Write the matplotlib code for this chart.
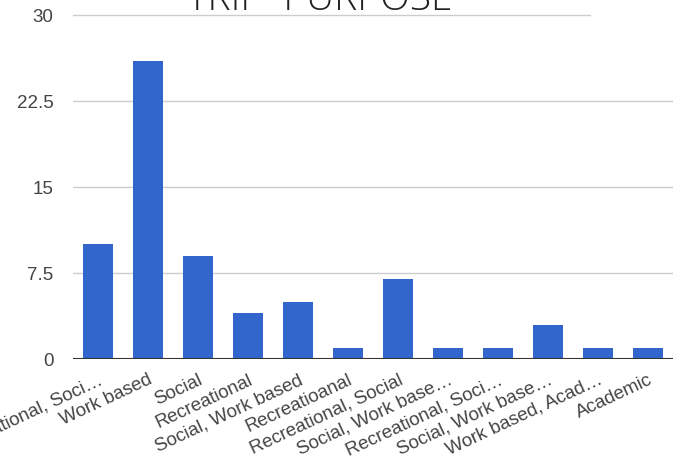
import matplotlib
matplotlib.use("Agg")
import matplotlib.pyplot as plt

categories = [
    "Recreational, Soci\u2026", "Work based", "Social", "Recreational",
    "Social, Work based", "Recreatioanal", "Recreational, Social",
    "Social, Work base\u2026", "Recreational, Soci\u2026", "Social, Work base\u2026",
    "Work based, Acad\u2026", "Academic",
]
counts = [10, 26, 9, 4, 5, 1, 7, 1, 1, 3, 1, 1]
yticks = [0, 7.5, 15, 22.5, 30]
ytick_labels = ["0", "7.5", "15", "22.5", "30"]

fig = plt.figure(figsize=(6.83, 4.65), dpi=100)
ax = fig.add_axes([73 / 683, 1 - 359 / 465, 600 / 683, 344 / 465])

x = list(range(len(categories)))
ax.bar(x, counts, width=0.6, color="#3366cc", zorder=3)

ax.set_xlim(-0.5, len(categories) - 0.5)
ax.set_ylim(0, 30)

# horizontal gridlines (top one shortened where the title block sits)
for v in yticks[1:-1]:
    ax.axhline(v, color="#cccccc", lw=1, zorder=1)
ax.axhline(30, xmin=0, xmax=(590 - 73) / 600, color="#cccccc", lw=1, zorder=1, clip_on=False)
ax.axhline(0, color="#333333", lw=1.5, zorder=4)

for s in ax.spines.values():
    s.set_visible(False)

ax.set_yticks(yticks)
ax.set_yticklabels(ytick_labels, fontsize=13.5, color="#444444", family="Liberation Sans")
ax.tick_params(axis="y", length=0, pad=14)

ax.set_xticks(x)
ax.set_xticklabels(categories, rotation=25, ha="right", va="top",
                   rotation_mode="anchor", fontsize=13.5, color="#444444",
                   family="Liberation Sans")
ax.tick_params(axis="x", length=0, pad=9)

fig.text(320 / 683, 1 - 10 / 465, "TRIP  PURPOSE", ha="center", va="baseline",
         fontsize=28, color="#222222", family="Open Sans", fontweight="light")

fig.savefig("out.png", dpi=100)
